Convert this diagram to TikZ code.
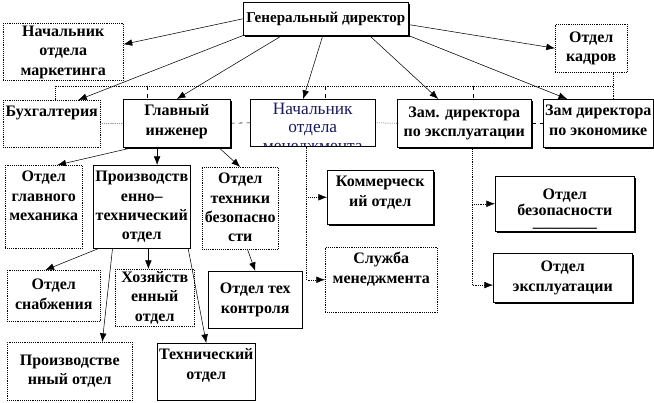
\documentclass[tikz,border=0pt]{standalone}
\usepackage{fontspec}
\setmainfont{Liberation Serif}
\usetikzlibrary{arrows.meta,shadows}
\definecolor{navy}{RGB}{25,25,95}
\newlength\pxu
\setlength\pxu{0.75pt}
\newcommand\bx[4][t]{\parbox[t][\dimexpr#3\pxu-4pt\relax][#1]{\dimexpr#2\pxu-2pt\relax}{\centering\strut #4\strut}}

\begin{document}
\begin{tikzpicture}[x=0.75pt,y=-0.75pt,
    box/.style={draw, thin, fill=white, anchor=north west, inner xsep=1pt, inner ysep=2pt,
      font=\bfseries\fontsize{12}{14.6}\selectfont},
    dbox/.style={box, densely dotted},
    sbox/.style={box, drop shadow={shadow xshift=1pt, shadow yshift=-1pt, fill=black, opacity=1}},
    arr/.style={thin, -{Latex[length=6.5pt,width=5pt]}},
    link/.style={thin, densely dotted},
    dlink/.style={thin, dashed}]
  \useasboundingbox (0,0) rectangle (654,403);

  \node(gen)    [sbox, font=\bfseries\fontsize{11.3}{14}\selectfont] at (243,2)
                       {\bx[c]{165}{33}{Генеральный директор}};
  \node(mark)   [dbox] at (3,23)    {\bx[c]{120}{57}{Начальник\\отдела\\маркетинга}};
  \node(kadr)   [dbox] at (555,24)  {\bx[c]{72}{48}{Отдел\\кадров}};

  \node(buh)    [dbox] at (3,100)   {\bx{97}{47}{Бухгалтерия}};
  \node(glav)   [sbox] at (123,99)  {\bx{107}{48}{Главный\\инженер}};
  \begin{scope}
    \clip (249,98) rectangle (376,146);
    \node(nach) [box, text=navy, font=\mdseries\fontsize{13}{13.7}\selectfont] at (250,99)
      {\bx{125}{47}{Начальник\\отдела\\менеджмента}};
  \end{scope}
  \draw[thin] (nach.north west) rectangle (nach.south east);
  \node(zam1)   [sbox] at (397,99)  {\bx[c]{134}{48}{Зам. директора\\по эксплуатации}};
  \node(zam2)   [sbox] at (543,99)  {\bx{110}{48}{Зам директора\\по экономике}};

  \node(meh)    [dbox] at (5,165)   {\bx{77}{83}{Отдел\\главного\\механика}};
  \node(pto)    [box]  at (93,165)  {\bx{97}{83}{Производств\\енно–\\технический\\отдел}};
  \node(teh)    [dbox] at (202,167) {\bx{76}{82}{Отдел\\техники\\безопасно\\сти}};
  \node(kom)    [sbox] at (327,170) {\bx{106}{54}{Коммерческ\\ий отдел}};
  \node(slu)    [dbox] at (325,247) {\bx{112}{65}{Служба\\менеджмента}};
  \node(bez)    [sbox, font=\bfseries\fontsize{12}{12.4}\selectfont] at (495,176)
                       {\bx{139}{55}{\\[-6pt]Отдел\\безопасности\\————}};
  \node(eksp)   [sbox] at (493,253) {\bx[c]{139}{49}{Отдел\\эксплуатации}};

  \node(snab)   [dbox] at (7,270)   {\bx[c]{93}{51}{Отдел\\снабжения}};
  \node(hoz)    [dbox] at (115,269) {\bx[c]{79}{57}{Хозяйств\\енный\\отдел}};
  \node(kont)   [box]  at (208,271) {\bx[c]{94}{57}{Отдел тех\\контроля}};
  \node(proizv) [dbox] at (7,342)   {\bx[c]{125}{58}{Производстве\\нный отдел}};
  \node(tehn)   [box]  at (157,343) {\bx{98}{57}{Технический\\отдел}};

  \draw[arr] (gen.west)        -- (mark.7);
  \draw[arr] (gen.south west)  -- (buh.42);
  \draw[arr] (gen.201)         -- (glav.north);
  \draw[arr] (gen.260)         -- (nach.112);
  \draw[arr] (gen.-21)         -- (zam1.137);
  \draw[arr] (gen.south east)  -- (zam2.142);
  \draw[arr] (gen.-4)          -- (kadr.west);

  \coordinate(busL) at (55,86);
  \coordinate(busR) at (613,86);
  \draw[link] (busL |- buh.north) -- (busL) -- (busR) -- (busR |- zam2.north);
  \draw[link] (busR) -- (busR |- kadr.south);
  \foreach \n/\x in {glav/147,nach/325,zam1/473}{
    \coordinate(s\n) at (\x,86);
    \draw[dlink] (s\n) -- (s\n |- \n.north);
  }
  \draw[link]  (buh.east)  -- (glav.west);
  \draw[dlink] (glav.east) -- (nach.west);
  \draw[link]  (nach.east) -- (zam1.west);
  \draw[dlink] (zam1.east) -- (zam2.west);

  \draw[arr] (glav.209) -- (meh.72);
  \draw[arr] (glav.231) -- (glav.231 |- pto.north);
  \draw[arr] (glav.-30) -- (teh.north);
  \draw[arr, densely dotted] (nach.255) |- (slu.west);
  \draw[arr, densely dotted] (nach.255 |- kom.west) -- (kom.west);
  \draw[arr, densely dotted] (zam1.-72) |- (eksp.186);
  \draw[arr, densely dotted] (zam1.-72 |- bez.west) -- (bez.west);

  \draw[arr] (pto.224) -- (snab.108);
  \draw[arr] (pto.235) -- (proizv.42);
  \draw[arr] (pto.-81) -- (pto.-81 |- hoz.north);
  \draw[arr] (pto.-42) -- (tehn.north);
  \draw[arr] (teh.-80) -- (kont.north);
\end{tikzpicture}
\end{document}
